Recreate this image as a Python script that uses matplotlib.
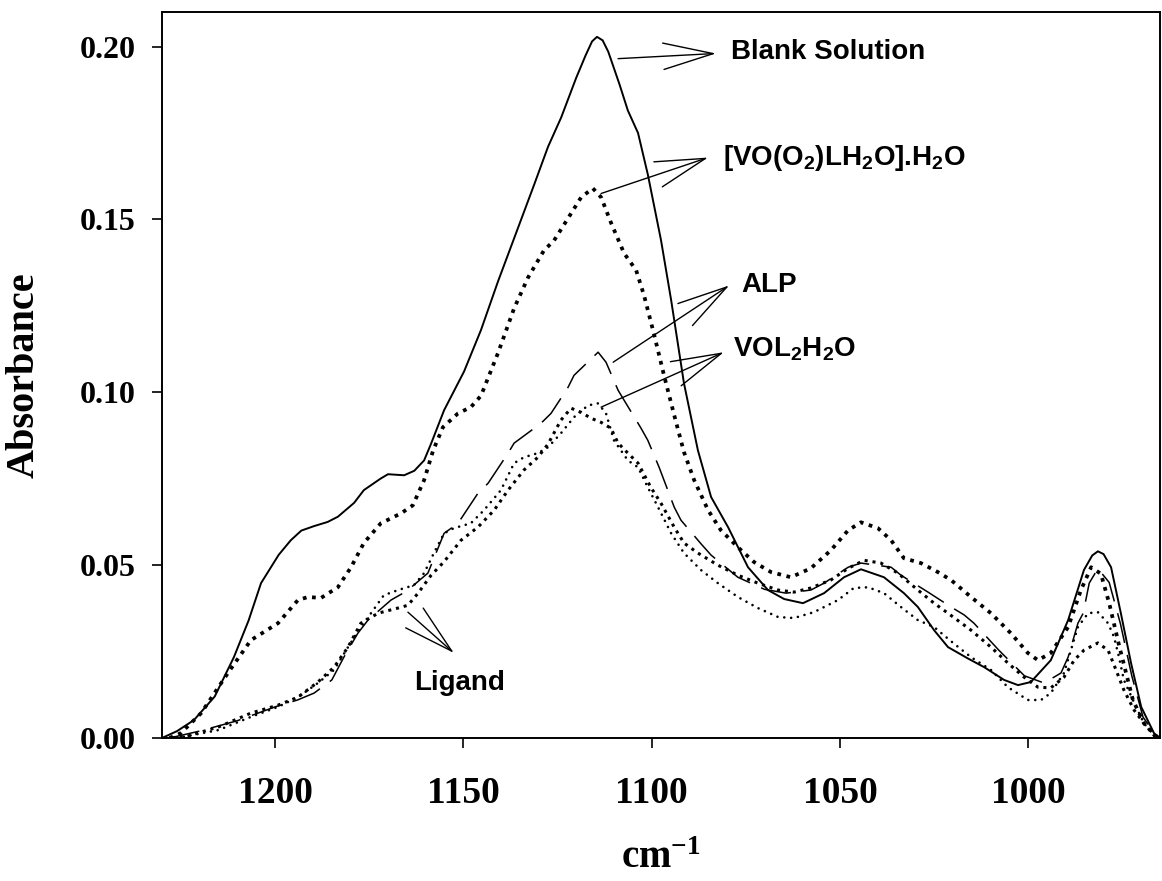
import matplotlib
matplotlib.use('Agg')
import matplotlib.pyplot as plt

# wavenumber (cm-1) / absorbance pairs
blank_x = [1230, 1226, 1221.5, 1216, 1210.9, 1207, 1203.7, 1199, 1195.8, 1193, 1189.6, 1186,
           1183.3, 1179, 1176.4, 1172, 1170, 1165.7, 1163, 1160.4, 1158.6, 1155.1, 1149.8,
           1145.3, 1140.8, 1136, 1131.2, 1127.5, 1124, 1120, 1117.5, 1115.8, 1114.5, 1113,
           1111.5, 1108.5, 1106.3, 1103.6, 1101, 1097.5, 1094.8, 1091.4, 1087.7, 1084.2, 1079.7,
           1074.4, 1069.1, 1064.8, 1059.8, 1054.2, 1048.9, 1044.4, 1038.3, 1033, 1029.3, 1025,
           1021.3, 1016, 1011.7, 1006.4, 1002.7, 999.3, 994, 989.4, 985.2, 983, 981.5, 980,
           978, 975.4, 972.7, 970, 966.6, 965]
blank_y = [0.0, 0.002, 0.0052, 0.012, 0.0234, 0.034, 0.0448, 0.053, 0.0572, 0.060, 0.0613,
           0.0625, 0.064, 0.068, 0.0717, 0.075, 0.0763, 0.076, 0.0773, 0.0803, 0.085, 0.0948,
           0.106, 0.118, 0.132, 0.146, 0.160, 0.171, 0.1795, 0.191, 0.1975, 0.2015, 0.2028,
           0.2018, 0.1985, 0.189, 0.1815, 0.175, 0.163, 0.144, 0.1266, 0.1026, 0.0832, 0.0697,
           0.061, 0.0494, 0.0428, 0.0402, 0.039, 0.0419, 0.0465, 0.0488, 0.0465, 0.0419, 0.0379,
           0.0312, 0.0263, 0.023, 0.0205, 0.0168, 0.0153, 0.0162, 0.0225, 0.0341, 0.0486,
           0.0528, 0.054, 0.0532, 0.0494, 0.0361, 0.0217, 0.009, 0.0014, 0.0]

vo_x = [1228, 1225, 1219.6, 1212.5, 1206.4, 1199.2, 1193.9, 1191.2, 1187.8, 1183.3, 1179.8,
        1176.4, 1171.9, 1166.5, 1163.4, 1160.4, 1158, 1155.4, 1151.4, 1148, 1145.3, 1140.8,
        1136.5, 1132.8, 1128.6, 1125.9, 1122.2, 1118.7, 1115.6, 1113.4, 1110.8, 1107.3,
        1104.1, 1102, 1099.4, 1096.7, 1094, 1091.4, 1088.7, 1085, 1081.6, 1077.1, 1072.8,
        1068.3, 1063, 1057.7, 1052.4, 1047.8, 1044.4, 1039.9, 1036.4, 1033, 1028.5, 1024,
        1020.5, 1015.2, 1009.9, 1004.6, 1000.1, 997.4, 994, 989.4, 986, 983.3, 980.7, 978.5,
        975.9, 972.2, 969.3, 965.5]
vo_y = [0.0, 0.0014, 0.0072, 0.0188, 0.0283, 0.0332, 0.0399, 0.0408, 0.0405, 0.0436, 0.0494,
        0.0564, 0.0621, 0.065, 0.0673, 0.0746, 0.0832, 0.0899, 0.0939, 0.0957, 0.099, 0.1113,
        0.1243, 0.1332, 0.141, 0.1439, 0.1503, 0.1564, 0.159, 0.1564, 0.1491, 0.1402, 0.1353,
        0.128, 0.117, 0.1049, 0.0934, 0.0827, 0.0746, 0.0659, 0.0601, 0.0552, 0.0509, 0.048,
        0.0465, 0.0491, 0.0543, 0.0601, 0.0624, 0.0607, 0.0572, 0.052, 0.0506, 0.048, 0.0457,
        0.0408, 0.0361, 0.0303, 0.0246, 0.0225, 0.0246, 0.0321, 0.0428, 0.0494, 0.0475, 0.039,
        0.0269, 0.011, 0.0043, 0.0]

alp_x = [1228, 1220, 1210, 1200, 1194, 1189.6, 1184.9, 1181.7, 1178, 1175.3, 1169.2, 1165,
         1159.4, 1155.1, 1151.4, 1146.1, 1143.4, 1138.1, 1136.5, 1129.4, 1126.7, 1122.2,
         1120.6, 1114.2, 1112.1, 1108.9, 1107.3, 1102.8, 1101, 1098, 1094, 1092.2, 1086.9,
         1084.2, 1077.1, 1070, 1064.3, 1057.7, 1054.2, 1047.8, 1044.4, 1036.4, 1033.8, 1026.6,
         1020.5, 1017, 1014.4, 1007.8, 1001, 995.8, 991.3, 989.4, 986.8, 985.4, 983.8, 981.5,
         978.5, 975.5, 972.5, 969.5, 965.5]
alp_y = [0.0, 0.002, 0.005, 0.009, 0.011, 0.013, 0.0168, 0.0234, 0.0303, 0.0341, 0.0399,
         0.0425, 0.0477, 0.0592, 0.0621, 0.0708, 0.0737, 0.0824, 0.0853, 0.091, 0.0939, 0.1014,
         0.1049, 0.1116, 0.1087, 0.1006, 0.0977, 0.0896, 0.0861, 0.0783, 0.0668, 0.063, 0.0562,
         0.0529, 0.0465, 0.043, 0.0419, 0.0428, 0.0448, 0.0494, 0.0506, 0.0494, 0.0471, 0.0422,
         0.0379, 0.0356, 0.0332, 0.0254, 0.018, 0.0159, 0.0188, 0.0234, 0.0332, 0.0361, 0.0448,
         0.049, 0.045, 0.033, 0.018, 0.006, 0.0]

vol_x = [1226, 1215, 1206.4, 1199.2, 1193.9, 1188.6, 1184.3, 1180.6, 1177.2, 1174.5, 1171.1,
         1167.3, 1163.1, 1160.4, 1157.8, 1155.1, 1152.5, 1148, 1144.5, 1140, 1136.5, 1133.9,
         1130.2, 1127.5, 1124.1, 1120.6, 1116.9, 1114.2, 1112.1, 1110, 1106.3, 1103.6, 1101,
         1098.3, 1094.8, 1091.4, 1086.9, 1082.4, 1077.1, 1071.8, 1066.4, 1062.2, 1056.9,
         1050.5, 1046.3, 1042.5, 1038.3, 1033.8, 1029.3, 1025, 1020.5, 1015.2, 1009.9, 1005.4,
         1000.1, 996.6, 994, 990.5, 986.8, 984.1, 981.5, 978.8, 977.2, 975.9, 974.6, 972.2,
         969.3, 966]
vol_y = [0.0, 0.0023, 0.0061, 0.009, 0.0118, 0.0159, 0.0197, 0.0263, 0.0321, 0.0361, 0.0413,
         0.0428, 0.0442, 0.0477, 0.0535, 0.0592, 0.0607, 0.0621, 0.0659, 0.0717, 0.0795,
         0.0812, 0.0824, 0.0841, 0.0881, 0.0928, 0.0962, 0.0968, 0.0939, 0.0861, 0.0803,
         0.0783, 0.0725, 0.0668, 0.0592, 0.0535, 0.0486, 0.0448, 0.0408, 0.0376, 0.035, 0.0347,
         0.0364, 0.0399, 0.0434, 0.0436, 0.0419, 0.0379, 0.0341, 0.0321, 0.028, 0.0234,
         0.0197, 0.0147, 0.011, 0.011, 0.013, 0.0188, 0.0321, 0.0361, 0.0364, 0.0332, 0.0292,
         0.0234, 0.0168, 0.011, 0.0043, 0.0]

lig_x = [1229.5, 1224, 1215, 1206.4, 1199.2, 1193.9, 1188.6, 1184.3, 1180.6, 1177.2, 1172.6,
         1167.3, 1164.7, 1162, 1158.6, 1155.1, 1150.6, 1146.1, 1141.8, 1138.1, 1133.9, 1130.2,
         1127.5, 1124.1, 1121.4, 1118.7, 1116.1, 1113.4, 1110.8, 1108.9, 1106.3, 1103.6,
         1100.2, 1097.5, 1094, 1091.4, 1087.7, 1082.4, 1077.1, 1071.8, 1066.4, 1062.2, 1057.7,
         1052.4, 1047.8, 1043.6, 1039.1, 1034.6, 1029.3, 1025, 1021.3, 1015.2, 1009.9, 1005.4,
         1001.1, 997.4, 994, 990.5, 987.8, 985.2, 981.5, 978.8, 977.2, 974.6, 971.9, 969.3, 966]
lig_y = [0.0, 0.0003, 0.0032, 0.0072, 0.0095, 0.0118, 0.0162, 0.0205, 0.0263, 0.0332, 0.0361,
         0.0376, 0.0384, 0.0419, 0.047, 0.051, 0.0572, 0.061, 0.0659, 0.0717, 0.0775, 0.0812,
         0.085, 0.0919, 0.0954, 0.0942, 0.0925, 0.0913, 0.0896, 0.0853, 0.0824, 0.0795, 0.0725,
         0.0679, 0.061, 0.0564, 0.0535, 0.05, 0.0471, 0.0448, 0.0428, 0.0422, 0.0434, 0.0457,
         0.0491, 0.0514, 0.0506, 0.0477, 0.0428, 0.039, 0.0361, 0.0312, 0.0263, 0.0217, 0.0176,
         0.0147, 0.0145, 0.0176, 0.0225, 0.0254, 0.0275, 0.0254, 0.0211, 0.0139, 0.0081,
         0.0043, 0.0]

x_ticks = [1200, 1150, 1100, 1050, 1000]
y_ticks = [0.00, 0.05, 0.10, 0.15, 0.20]

plt.rcParams['font.family'] = 'Liberation Serif'
plt.rcParams['font.weight'] = 'bold'

fig = plt.figure(figsize=(11.62, 8.81), dpi=100)
ax = fig.add_axes([0.1394, 0.1623, 0.8589, 0.8241])

ax.plot(vo_x, vo_y, color='black', lw=2.7, linestyle=(0, (1, 1.5)), dash_capstyle='butt')
ax.plot(lig_x, lig_y, color='black', lw=2.2, linestyle=(0, (1, 1.6)), dash_capstyle='butt')
ax.plot(vol_x, vol_y, color='black', lw=1.9, linestyle=(0, (0.01, 2.6)), dash_capstyle='round')
ax.plot(alp_x, alp_y, color='black', lw=1.1, linestyle=(0, (20, 8)))
ax.plot(blank_x, blank_y, color='black', lw=1.4)

ax.set_xlim(1230, 965)
ax.set_ylim(0, 0.21)
ax.set_xticks(x_ticks)
ax.set_yticks(y_ticks)
ax.set_yticklabels(['%.2f' % v for v in y_ticks])
ax.tick_params(axis='x', direction='out', length=7, width=1.2, labelsize=27, pad=20)
ax.tick_params(axis='y', direction='out', length=7, width=1.2, labelsize=23, pad=12)
for s in ax.spines.values():
    s.set_linewidth(1.4)

ax.set_xlabel(r'cm$\mathregular{^{-1}}$', fontsize=28, fontweight='bold')
ax.xaxis.set_label_coords(0.5, -0.14)
ax.set_ylabel('Absorbance', fontsize=29, fontweight='bold')
ax.yaxis.set_label_coords(-0.12, 0.5)

# labels with arrows pointing to the curves
arrow = dict(arrowstyle='->,head_length=3.6,head_width=0.95', lw=1.0, color='black',
             mutation_scale=10, shrinkA=0, shrinkB=0)
notes = [
    ('Blank Solution', (1082.9, 0.198), (1108.9, 0.1965), (1078.9, 0.1965)),
    (r'[VO(O$\mathregular{_2}$)LH$\mathregular{_2}$O].H$\mathregular{_2}$O',
     (1085.0, 0.1679), (1113.4, 0.1575), (1081.0, 0.1656)),
    ('ALP', (1079.4, 0.1309), (1110.2, 0.1087), (1076.3, 0.1289)),
    (r'VOL$\mathregular{_2}$H$\mathregular{_2}$O', (1080.8, 0.1116), (1113.4, 0.0957),
     (1078.4, 0.1104)),
    ('Ligand', (1152.5, 0.0246), (1164.7, 0.0364), (1163.1, 0.0139)),
]
for label, tip, start, pos in notes:
    ax.annotate('', xy=tip, xytext=start, arrowprops=arrow)
    ax.text(pos[0], pos[1], label, family='Liberation Sans', fontweight='bold',
            fontsize=20, ha='left', va='baseline')

fig.savefig('out.png', dpi=100)
